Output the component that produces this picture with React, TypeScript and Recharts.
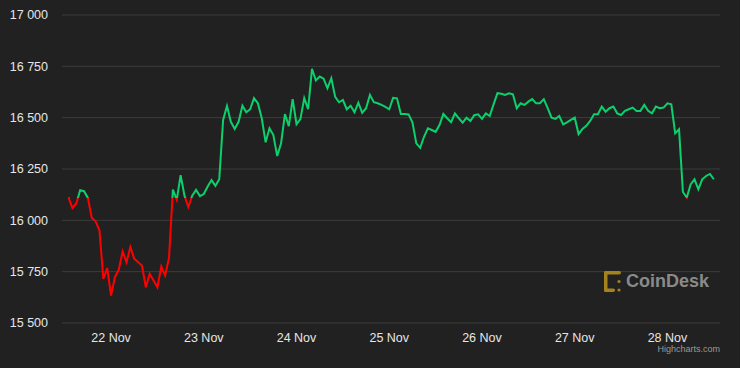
import { CartesianGrid, Line, LineChart, XAxis, YAxis } from "recharts";

// hourly BTC price, 21 Nov 13:00 -> 28 Nov 12:00
const prices = [
  16111, 16060, 16082, 16147, 16142, 16109, 16013, 15995, 15951, 15715,
  15767, 15634, 15723, 15759, 15849, 15796, 15870, 15813, 15796, 15780,
  15674, 15740, 15707, 15674, 15775, 15731, 15818, 16150, 16100, 16220,
  16120, 16065, 16120, 16148, 16118, 16128, 16165, 16196, 16168, 16200,
  16489, 16557, 16480, 16445, 16480, 16558, 16526, 16541, 16595, 16570,
  16497, 16380, 16448, 16415, 16313, 16375, 16517, 16459, 16590, 16468,
  16493, 16595, 16541, 16738, 16681, 16700, 16690, 16643, 16692, 16602,
  16575, 16586, 16541, 16558, 16526, 16573, 16524, 16546, 16611, 16575,
  16570, 16562, 16553, 16541, 16597, 16594, 16518, 16518, 16516, 16477,
  16375, 16353, 16407, 16448, 16440, 16431, 16464, 16518, 16497, 16478,
  16521, 16497, 16476, 16500, 16484, 16512, 16516, 16494, 16521, 16508,
  16565, 16619, 16616, 16611, 16619, 16614, 16546, 16570, 16562, 16578,
  16591, 16570, 16570, 16590, 16546, 16500, 16494, 16508, 16467, 16477,
  16489, 16500, 16420, 16445, 16460, 16484, 16517, 16517, 16554, 16529,
  16546, 16554, 16521, 16513, 16533, 16541, 16549, 16533, 16533, 16562,
  16533, 16521, 16554, 16546, 16549, 16570, 16565, 16424, 16443, 16138,
  16111, 16175, 16200, 16151, 16200, 16216, 16226, 16200,
];

// hour index of each midnight
const dayTicks = [11, 35, 59, 83, 107, 131, 155];
const dayLabels = ["22 Nov", "23 Nov", "24 Nov", "25 Nov", "26 Nov", "27 Nov", "28 Nov"];
const priceTicks = [15500, 15750, 16000, 16250, 16500, 16750, 17000];

const UP = "#0bd06b";
const DOWN = "#ff0000";

export default function App() {
  const data = prices.map((p, i) => ({ t: i, price: p }));
  const open = prices[0];
  const max = Math.max(...prices);
  const min = Math.min(...prices);
  const split = (max - open) / (max - min);

  const fmtPrice = (v: number) => String(v).replace(/(\d)(?=(\d{3})+$)/g, "$1 ");
  const fmtDay = (v: number) => dayLabels[dayTicks.indexOf(v)] ?? "";

  return (
    <div style={{ position: "relative", width: 740, height: 368, background: "#212121" }}>
      <style>{"body{margin:0}"}</style>
      <LineChart
        width={740}
        height={368}
        data={data}
        margin={{ top: 15, right: 20, bottom: 15, left: 0 }}
        style={{ fontFamily: "'Liberation Sans', Arial, sans-serif" }}
      >
        <defs>
          <linearGradient id="openSplit" x1="0" y1="0" x2="0" y2="1">
            <stop offset={0} stopColor={UP} />
            <stop offset={split} stopColor={UP} />
            <stop offset={split} stopColor={DOWN} />
            <stop offset={1} stopColor={DOWN} />
          </linearGradient>
        </defs>
        <CartesianGrid vertical={false} stroke="#3d3d3d" />
        <XAxis
          dataKey="t"
          type="number"
          domain={[-1.7, 168.6]}
          ticks={dayTicks}
          tickFormatter={fmtDay}
          axisLine={false}
          tickLine={false}
          tickMargin={4}
          tick={{ fill: "#e6e6e6", fontSize: 12.5 }}
        />
        <YAxis
          domain={[15500, 17000]}
          ticks={priceTicks}
          tickFormatter={fmtPrice}
          width={62}
          axisLine={false}
          tickLine={false}
          tickMargin={8}
          tick={{ fill: "#e6e6e6", fontSize: 12.5 }}
        />
        <Line
          type="linear"
          dataKey="price"
          stroke="url(#openSplit)"
          strokeWidth={2}
          dot={false}
          activeDot={false}
          isAnimationActive={false}
        />
      </LineChart>

      {/* watermark */}
      <div style={{ position: "absolute", left: 602, top: 268, display: "flex", alignItems: "center" }}>
        <svg width={22} height={26}>
          <g fill="#a4821f">
            <rect x={2} y={3} width={17} height={3.5} rx={1.7} />
            <rect x={2} y={3} width={3.5} height={21} rx={1.7} />
            <rect x={2} y={20.5} width={11} height={3.5} rx={1.7} />
            <circle cx={17} cy={13.5} r={1.6} />
            <circle cx={17} cy={22} r={1.6} />
          </g>
        </svg>
        <span
          style={{
            marginLeft: 2,
            fontFamily: "'Liberation Sans', Arial, sans-serif",
            fontWeight: 700,
            fontSize: 18,
            color: "#8a8a8a",
          }}
        >
          CoinDesk
        </span>
      </div>
      <div
        style={{
          position: "absolute",
          right: 20,
          top: 344,
          fontFamily: "'Liberation Sans', Arial, sans-serif",
          fontSize: 9,
          color: "#999999",
        }}
      >
        Highcharts.com
      </div>
    </div>
  );
}
